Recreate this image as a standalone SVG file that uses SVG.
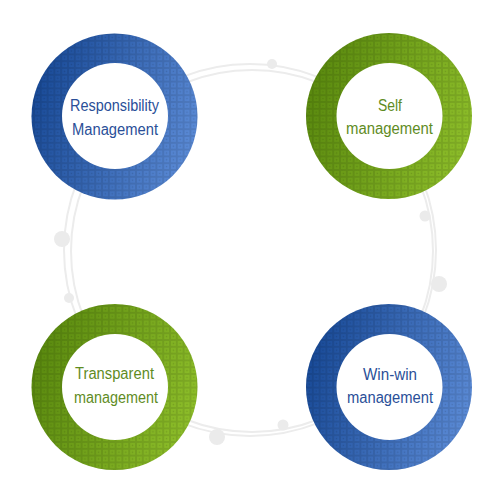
<svg xmlns="http://www.w3.org/2000/svg" width="500" height="500" viewBox="0 0 500 500">
  <defs>
    <linearGradient id="gBlue" x1="0" y1="0.35" x2="1" y2="0.65">
      <stop offset="0" stop-color="#184a98"/>
      <stop offset="1" stop-color="#5c8cd8"/>
    </linearGradient>
    <linearGradient id="gGreen" x1="0" y1="0.35" x2="1" y2="0.65">
      <stop offset="0" stop-color="#5a8a0e"/>
      <stop offset="1" stop-color="#8fc02a"/>
    </linearGradient>
    <pattern id="grid" patternUnits="userSpaceOnUse" width="6.8" height="6.8">
      <rect x="0.5" y="0.5" width="5.8" height="5.8" fill="none" stroke="#000" stroke-opacity="0.1" stroke-width="1"/>
      <rect x="2.7" y="2.7" width="1.4" height="1.4" fill="#000" fill-opacity="0.14"/>
    </pattern>
    <style>
      .ring { stroke: #ececec; stroke-width: 2; fill: none; }
      .dot { fill: #ebebeb; }
      .hole { fill: #ffffff; }
      .tex { fill: url(#grid); }
      .lbl { font-family: "Liberation Sans", Arial, sans-serif; font-size: 16px; text-anchor: middle; }
      .blue { fill: #2a4f98; }
      .green { fill: #5f8c1f; }
    </style>
  </defs>

  <g id="background">
    <circle class="ring" cx="250" cy="250" r="186"/>
    <circle class="ring" cx="252" cy="251" r="181"/>
    <circle class="dot" cx="272" cy="64" r="5"/>
    <circle class="dot" cx="62" cy="239" r="8"/>
    <circle class="dot" cx="69" cy="298" r="5"/>
    <circle class="dot" cx="425" cy="216" r="5.5"/>
    <circle class="dot" cx="439" cy="284" r="8"/>
    <circle class="dot" cx="217" cy="437" r="8"/>
    <circle class="dot" cx="283" cy="425" r="5.5"/>
  </g>

  <g id="connectors"></g>

  <g id="node-responsibility">
    <circle cx="114.5" cy="116.5" r="83" fill="url(#gBlue)"/>
    <circle class="tex" cx="114.5" cy="116.5" r="83"/>
    <circle class="hole" cx="115" cy="116" r="53"/>
    <text class="lbl blue" x="114.5" y="110.5" textLength="89" lengthAdjust="spacingAndGlyphs">Responsibility</text>
    <text class="lbl blue" x="115" y="134.5" textLength="86" lengthAdjust="spacingAndGlyphs">Management</text>
  </g>

  <g id="node-self">
    <circle cx="389" cy="116" r="83" fill="url(#gGreen)"/>
    <circle class="tex" cx="389" cy="116" r="83"/>
    <circle class="hole" cx="389.5" cy="116" r="53"/>
    <text class="lbl green" x="390" y="110.5" textLength="24" lengthAdjust="spacingAndGlyphs">Self</text>
    <text class="lbl green" x="389.5" y="134" textLength="87" lengthAdjust="spacingAndGlyphs">management</text>
  </g>

  <g id="node-transparent">
    <circle cx="114.5" cy="387" r="83" fill="url(#gGreen)"/>
    <circle class="tex" cx="114.5" cy="387" r="83"/>
    <circle class="hole" cx="115" cy="387" r="53"/>
    <text class="lbl green" x="114.5" y="379" textLength="79" lengthAdjust="spacingAndGlyphs">Transparent</text>
    <text class="lbl green" x="116" y="402.5" textLength="84" lengthAdjust="spacingAndGlyphs">management</text>
  </g>

  <g id="node-winwin">
    <circle cx="389" cy="387" r="83" fill="url(#gBlue)"/>
    <circle class="tex" cx="389" cy="387" r="83"/>
    <circle class="hole" cx="389.5" cy="387" r="53"/>
    <text class="lbl blue" x="390" y="380" textLength="54" lengthAdjust="spacingAndGlyphs">Win-win</text>
    <text class="lbl blue" x="390" y="403" textLength="86" lengthAdjust="spacingAndGlyphs">management</text>
  </g>
</svg>
